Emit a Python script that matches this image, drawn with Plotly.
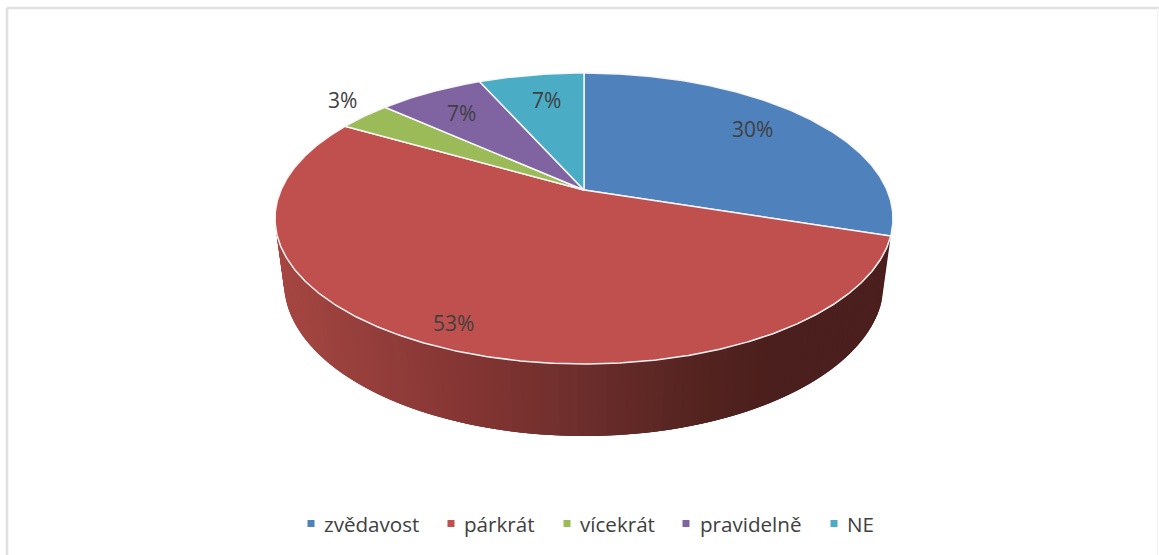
import numpy as np
import plotly.graph_objects as go

# Data
categories = ["zvědavost", "párkrát", "vícekrát", "pravidelně", "NE"]
counts = [9, 16, 1, 2, 2]

# Style
colors = ["#4f81bd", "#c0504d", "#9bbb59", "#8064a2", "#4bacc6"]
TEXT = "#404040"
FONT = "Open Sans"

# Perspective disc geometry (plot units = pixels)
CX, CY = 584.0, 190.0
A, B, Q = 303.0, 139.9, 0.196      # half axes at the apex, perspective strength
DEPTH_W, DEPTH_Y = 0.0288, 65.0    # how far the lower rim is pushed back / down

# Wall shading, by horizontal position
shade_x = [275, 370, 465, 584, 700, 770, 892]
shade_r = [166, 148, 132, 108, 84, 75, 75]
shade_g = [70, 62, 53, 46, 35, 31, 31]
shade_b = [65, 59, 51, 44, 32, 29, 29]

# Label placement (centre of each label, same order as categories)
label_x = [752, 453, 342, 461, 546]
label_y = [128.5, 322.5, 99.5, 112.5, 99.5]
# Legend placement
legend_marker_x = [311, 451, 567, 686, 834]
legend_text_x = [322, 462, 578, 698, 845]
LEGEND_Y = 523.5


def project(theta, depth=0.0):
    u, v = np.sin(theta), np.cos(theta)
    w = 1 + Q * v + DEPTH_W * depth
    return CX + A * u / w, CY - (B * v - DEPTH_Y * depth) / w


total = sum(counts)
edges = np.concatenate([[0], np.cumsum(counts)]) / total * 2 * np.pi

fig = go.Figure()

# Side wall: shaded bands along the visible front of the red slice, painted in
# order so that each one overlaps the next and no seams show
wall_t = np.linspace(edges[1], np.radians(285), 120)
OVERLAP = 3
for k in range(len(wall_t) - 1):
    t = wall_t[k:min(k + OVERLAP + 1, len(wall_t))]
    xt, yt = project(t)
    xb, yb = project(t[::-1], 1.0)
    xm = (project(wall_t[k])[0] + project(wall_t[k + 1])[0]) / 2
    r = np.interp(xm, shade_x, shade_r)
    g = np.interp(xm, shade_x, shade_g)
    b = np.interp(xm, shade_x, shade_b)
    col = f"rgb({r:.0f},{g:.0f},{b:.0f})"
    fig.add_trace(go.Scatter(
        x=np.concatenate([xt, xb]), y=np.concatenate([yt, yb]),
        mode="lines", fill="toself", fillcolor=col,
        line=dict(width=0), hoverinfo="skip", showlegend=False))

# Top surface slices
for i, name in enumerate(categories):
    t = np.linspace(edges[i], edges[i + 1], max(8, int(counts[i] * 30)))
    ax, ay = project(t)
    fig.add_trace(go.Scatter(
        x=np.concatenate([[CX], ax, [CX]]), y=np.concatenate([[CY], ay, [CY]]),
        mode="lines", fill="toself", fillcolor=colors[i], name=name,
        line=dict(color="#f6f6f6", width=1.5), showlegend=False,
        hovertemplate=f"{name}: {counts[i]}<extra></extra>"))

# Legend markers
for i, name in enumerate(categories):
    fig.add_trace(go.Scatter(
        x=[legend_marker_x[i]], y=[LEGEND_Y], mode="markers", hoverinfo="skip",
        marker=dict(symbol="square", size=7, color=colors[i]), showlegend=False))

annotations = []
for i, name in enumerate(categories):
    annotations.append(dict(
        x=label_x[i], y=label_y[i], xref="x", yref="y", showarrow=False,
        text=f"{round(counts[i] / total * 100)}%",
        font=dict(family=FONT, size=21, color=TEXT)))
    annotations.append(dict(
        x=legend_text_x[i], y=LEGEND_Y, xref="x", yref="y", showarrow=False,
        xanchor="left", text=name, font=dict(family=FONT, size=20.6, color=TEXT)))

frame = [
    dict(type="line", xref="x", yref="y", x0=7, x1=7, y0=8, y1=555,
         line=dict(color="#e0e0e0", width=2.5)),
    dict(type="line", xref="x", yref="y", x0=7, x1=1159, y0=8, y1=8,
         line=dict(color="#e0e0e0", width=2.5)),
    dict(type="line", xref="x", yref="y", x0=1157.5, x1=1157.5, y0=8, y1=555,
         line=dict(color="#f2f2f2", width=1)),
]

fig.update_layout(
    width=1159, height=555, margin=dict(l=0, r=0, t=0, b=0),
    paper_bgcolor="white", plot_bgcolor="white", showlegend=False,
    xaxis=dict(range=[0, 1159], visible=False, fixedrange=True),
    yaxis=dict(range=[555, 0], visible=False, fixedrange=True),
    annotations=annotations, shapes=frame,
)

fig.write_html(
    "out.html",
    config={"displayModeBar": False},
    post_script="document.body.style.margin='0';document.body.style.overflow='hidden';",
)
